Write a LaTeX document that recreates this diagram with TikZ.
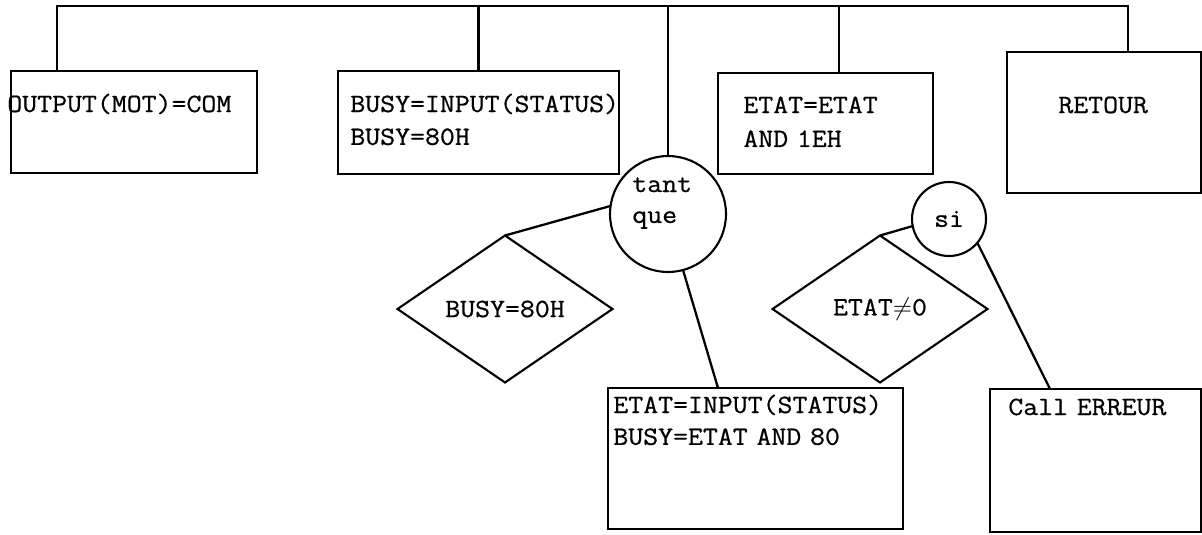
\documentclass[tikz,border=0pt]{standalone}
\usepackage{fontspec}
\setmonofont{Latin Modern Mono}[FakeStretch=1.1,FakeBold=0.7]
\usetikzlibrary{shapes.geometric}
\newcommand{\codefont}{\ttfamily\fontsize{15}{18.7}\selectfont\spaceskip=8.66pt\relax}
\tikzset{
  box/.style={draw,line width=1.3pt,inner sep=0pt,outer sep=0pt},
  txt/.style={font=\codefont,inner sep=0pt,anchor=base west,text width=6cm},
  cond/.style={draw,diamond,aspect=1.46,line width=1.2pt,inner sep=0pt,
    outer sep=0pt,minimum width=4.3cm,minimum height=2.94cm,font=\codefont},
  ctrl/.style={draw,circle,line width=1.2pt,inner sep=0pt,outer sep=0pt,
    font=\codefont},
  link/.style={line width=1.3pt}
}

\begin{document}
\begin{tikzpicture}[x=0.02cm,y=-0.02cm]
  \useasboundingbox (0,0) rectangle (1202,534);

  % first level
  \node[box,minimum width=4.92cm,minimum height=2.04cm] (init) at (134,122) {};
  \node[txt] (init-t) at (7,112) {OUTPUT(MOT)=COM};
  \node[box,minimum width=5.62cm,minimum height=2.06cm] (busy) at (478.5,122.5) {};
  \node[txt] (busy-t) at (350,112) {BUSY=INPUT(STATUS)\\BUSY=80H};
  \node[ctrl,minimum size=2.32cm] (tant) at (668,214) {};
  \node[txt] (tant-t) at (632,192) {tant\\[-1.1pt]que};
  \node[box,minimum width=4.3cm,minimum height=2.02cm] (mask) at (825.5,123.5) {};
  \node[txt] (mask-t) at (743,113) {ETAT=ETAT\\[0.6pt]AND 1EH};
  \node[box,minimum width=3.88cm,minimum height=2.82cm] (ret) at (1104,122.5) {};
  \node[txt] (ret-t) at (1058,113) {RETOUR};

  \coordinate (bus-l) at (57,6);
  \coordinate (bus-r) at (1128,6);
  \draw[link] (init.north -| bus-l) |- (bus-r) -- (bus-r |- ret.north);
  \draw[link] (busy.north) -- (busy.north |- bus-l);
  \draw[link] (tant.north) -- (tant.north |- bus-l);
  \draw[link] ([xshift=0.27cm]mask.north) -- ([xshift=0.27cm]mask.north |- bus-l);

  % tant que
  \node[cond] (d1) at (505,309) {BUSY=80H};
  \node[box,minimum width=5.9cm,minimum height=2.82cm] (loop) at (755.5,458.5) {};
  \node[txt] (loop-t) at (613,413) {ETAT=INPUT(STATUS)\\[-0.6pt]BUSY=ETAT AND 80};
  \draw[link] (tant.172) -- (d1.north);
  \draw[link] (tant.285) -- ([xshift=-0.75cm]loop.north);

  % si
  \node[ctrl,minimum size=1.48cm] (si) at (949,219) {si};
  \node[cond] (d2) at (880,309) {ETAT$\neq$0};
  \node[box,minimum width=4.22cm,minimum height=2.86cm] (err) at (1095.5,460.5) {};
  \node[txt] (err-t) at (1008,415) {Call ERREUR};
  \draw[link] (si.191) -- (d2.north);
  \draw[link] (si.320) -- ([xshift=-0.91cm]err.north);
\end{tikzpicture}
\end{document}
